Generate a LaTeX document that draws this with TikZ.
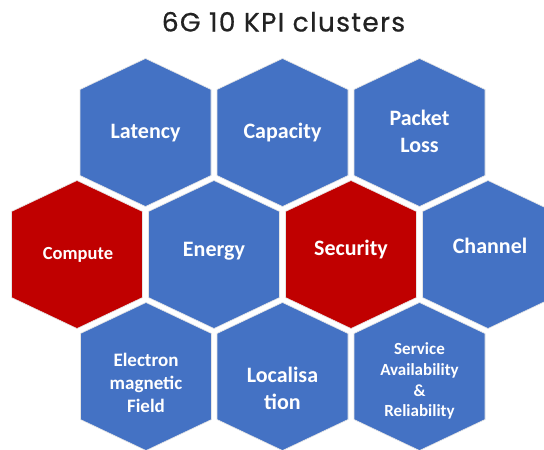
\documentclass[tikz,border=0pt]{standalone}
\usepackage{fontspec}
\newfontfamily\labelfont{Carlito}
\newfontfamily\titlefont[LetterSpace=5, FakeBold=0.6]{Poppins}
\definecolor{kpiblue}{HTML}{4472C4}
\definecolor{kpired}{HTML}{C00000}
\definecolor{titlegray}{HTML}{222222}
\tikzset{
  hexfill/.style={draw=white!80!gray, line width=0.6pt},
  lbl/.style={text=white, align=center, inner sep=0pt},
}
% hexagon cell: name, centre x, centre y, fill colour, label position, font size, text
\newcommand\hexcell[7]{%
  \path[hexfill, fill=#4] (#2,#3) ++(0,-74) -- ++(65.5,31) -- ++(0,86)
    -- ++(-65.5,31) -- ++(-65.5,-31) -- ++(0,-86) -- cycle;
  \node[lbl, font=\labelfont\bfseries\fontsize{#6}{#6}\selectfont\setlength\baselineskip{1.22\baselineskip}] (#1) at #5 {#7};
}
\begin{document}
\begin{tikzpicture}[x=1pt, y=-1pt]
  \useasboundingbox (0,0) rectangle (544,450);
  \clip (0,0) rectangle (544,450);
  \fill[white] (0,0) rectangle (544,450);

  \node[font=\titlefont\fontsize{26.5}{30}\selectfont, text=titlegray, anchor=base, inner sep=0pt]
    (title) at (283.5,31.5) {6G 10 KPI clusters};

  % top row
  \hexcell{lat}{145.5}{132.5}{kpiblue}{(145.5,133)}{22}{Latency}
  \hexcell{cap}{282.5}{132.5}{kpiblue}{(282.5,133)}{22}{Capacity}
  \hexcell{pkt}{419.5}{132.5}{kpiblue}{(419.5,131)}{22}{Packet\\Loss}
  % middle row
  \hexcell{cmp}{77}{254.5}{kpired}{(78,255)}{18.5}{Compute}
  \hexcell{eng}{214}{254.5}{kpiblue}{(214,251)}{22}{Energy}
  \hexcell{sec}{351}{254.5}{kpired}{(351,250)}{22}{Security}
  \hexcell{chn}{488}{254.5}{kpiblue}{(490,246)}{22}{Channel}
  % bottom row
  \hexcell{emf}{146}{376.5}{kpiblue}{(146,383)}{19}{Electron\\magnetic\\Field}
  \hexcell{loc}{282.5}{376.5}{kpiblue}{(282.5,388)}{22}{Localisa\\tion}
  \hexcell{sar}{419.5}{376.5}{kpiblue}{(419.5,381)}{17}{Service\\Availability\\\&\\Reliability}
\end{tikzpicture}
\end{document}
